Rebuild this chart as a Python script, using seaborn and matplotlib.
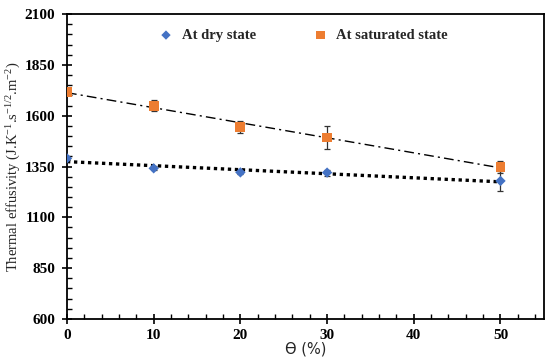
import numpy as np
import pandas as pd
import matplotlib
matplotlib.use("Agg")
import matplotlib.pyplot as plt
import seaborn as sns

# datos
theta = [0, 10, 20, 30, 50]
dry = [1390, 1341, 1321, 1320, 1279]
dry_err = [6, 10, 8, 15, 50]
sat = [1718, 1649, 1543, 1493, 1349]
sat_err = [10, 28, 30, 57, 30]

df = pd.DataFrame({"theta": theta, "dry": dry, "sat": sat})

sns.set_style("white")
plt.rcParams['font.family'] = ['Liberation Serif', 'DejaVu Serif']
plt.rcParams['mathtext.fontset'] = 'custom'
plt.rcParams['mathtext.rm'] = 'Liberation Serif'
plt.rcParams['mathtext.it'] = 'Liberation Serif:italic'

fig = plt.figure(figsize=(5.5, 3.6), dpi=100)
ax = fig.add_axes([0.1218, 0.114, 0.867, 0.847])

# lineas de tendencia
sns.regplot(data=df, x="theta", y="dry", scatter=False, ci=None, ax=ax,
            line_kws=dict(color="black", lw=2.4, ls=(0, (1, 1.1))))
sns.regplot(data=df, x="theta", y="sat", scatter=False, ci=None, ax=ax,
            line_kws=dict(color="black", lw=1.0, ls=(0, (7, 3, 1.5, 3))))

# barras de error
ax.errorbar(theta, dry, yerr=dry_err, fmt="none", ecolor="#333333", elinewidth=0.9, capsize=2.5, capthick=0.9)
ax.errorbar(theta, sat, yerr=sat_err, fmt="none", ecolor="#333333", elinewidth=0.9, capsize=2.5, capthick=0.9)

sns.scatterplot(data=df, x="theta", y="dry", marker="D", s=28, color="#4472C4",
                edgecolor="none", ax=ax, label="At dry state", zorder=3)
sns.scatterplot(data=df, x="theta", y="sat", marker="s", s=50, color="#ED7D31",
                edgecolor="none", ax=ax, label="At saturated state", zorder=3)

ax.set_xlim(0, 55)
ax.set_ylim(600, 2100)
ax.set_xticks([0, 10, 20, 30, 40, 50])
ax.set_yticks([600, 850, 1100, 1350, 1600, 1850, 2100])
ax.set_xticks(np.arange(0, 56, 2), minor=True)
ax.set_yticks(np.arange(600, 2101, 50), minor=True)
ax.tick_params(which="major", direction="inout", length=7, width=1.2, colors="black",
               bottom=True, left=True)
ax.tick_params(which="minor", direction="in", length=3.5, width=1.0, colors="black",
               bottom=True, left=True)
ax.tick_params(axis="both", labelsize=11)
ax.tick_params(axis="y", pad=5)
for lab in ax.get_xticklabels() + ax.get_yticklabels():
    lab.set_fontweight("bold")

for sp in ax.spines.values():
    sp.set_color("black")
    sp.set_linewidth(1.3)

ax.set_xlabel("ϴ (%)", fontsize=10.5, family=["DejaVu Sans"], labelpad=0)
ax.set_ylabel("Thermal effusivity (J.K$^{-1}$.s$^{-1/2}$.m$^{-2}$)", fontsize=10.5, labelpad=1)

leg = ax.legend(loc="upper center", bbox_to_anchor=(0.488, 0.995), ncol=2, frameon=False,
                prop=dict(weight="bold", size=10.5), handletextpad=0.1, columnspacing=3.4,
                markerscale=0.9)

fig.savefig("out.png", dpi=100)
